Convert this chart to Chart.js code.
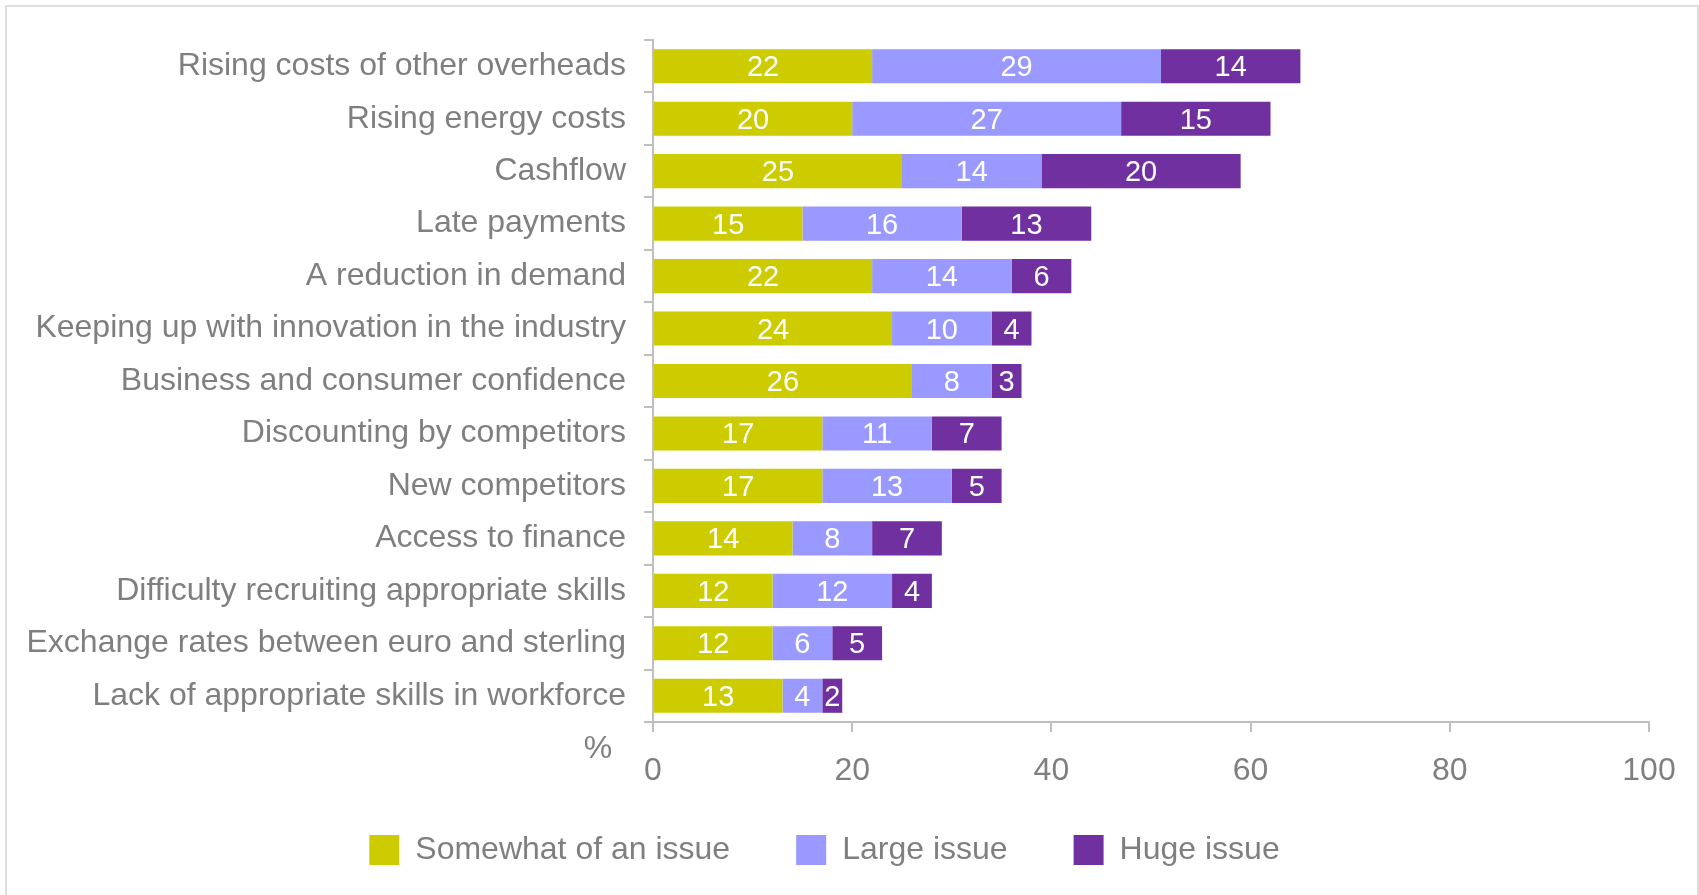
<!DOCTYPE html>
<html>
<head>
<meta charset="utf-8">
<script src="https://cdn.jsdelivr.net/npm/chart.js@4"></script>
<style>
    html, body { margin: 0; padding: 0; background: #fff; overflow: hidden; }
    #wrap { position: relative; width: 1699px; height: 895px; overflow: hidden; }
    #frame { position: absolute; left: 5px; top: 5px; width: 1690px; height: 900px; border: 2px solid #dedede; border-bottom: none; pointer-events: none; }
</style>
</head>
<body>
<div id="wrap">
    <canvas id="barChart" width="1699" height="895"></canvas>
    <div id="frame"></div>
</div>
<script>
const categories = [
    'Rising costs of other overheads',
    'Rising energy costs',
    'Cashflow',
    'Late payments',
    'A reduction in demand',
    'Keeping up with innovation in the industry',
    'Business and consumer confidence',
    'Discounting by competitors',
    'New competitors',
    'Access to finance',
    'Difficulty recruiting appropriate skills',
    'Exchange rates between euro and sterling',
    'Lack of appropriate skills in workforce'
];
const somewhatIssue = [22, 20, 25, 15, 22, 24, 26, 17, 17, 14, 12, 12, 13];
const largeIssue = [29, 27, 14, 16, 14, 10, 8, 11, 13, 8, 12, 6, 4];
const hugeIssue = [14, 15, 20, 13, 6, 4, 3, 7, 5, 7, 4, 5, 2];
const xTicks = [0, 20, 40, 60, 80, 100];

const FONT = '"Liberation Sans", Arial, sans-serif';
const GREY = '#7f7f7f';

document.addEventListener('DOMContentLoaded', function () {
    const ctx = document.getElementById('barChart').getContext('2d');

    // white numbers in the middle of each segment
    const valueLabels = {
        id: 'valueLabels',
        afterDatasetsDraw(chart) {
            const c = chart.ctx;
            c.save();
            c.font = '29px ' + FONT;
            c.fillStyle = '#ffffff';
            c.textAlign = 'center';
            c.textBaseline = 'middle';
            chart.data.datasets.forEach((ds, i) => {
                chart.getDatasetMeta(i).data.forEach((bar, j) => {
                    c.fillText(ds.data[j], (bar.x + bar.base) / 2, bar.y + 2);
                });
            });
            c.restore();
        }
    };

    // the lone "%" under the category labels
    const percentSign = {
        id: 'percentSign',
        afterDraw(chart) {
            const c = chart.ctx;
            const area = chart.chartArea;
            c.save();
            c.font = '32px ' + FONT;
            c.fillStyle = GREY;
            c.textAlign = 'center';
            c.textBaseline = 'middle';
            c.fillText('%', area.left - 55, area.bottom + 27);
            c.restore();
        }
    };

    // x axis box is kept short so the legend sits close; let its labels draw below it
    const axisRoom = {
        id: 'axisRoom',
        afterLayout(chart) {
            chart.scales.x.bottom += 40;
        }
    };

    new Chart(ctx, {
        type: 'bar',
        data: {
            labels: categories,
            datasets: [
                { label: 'Somewhat of an issue', data: somewhatIssue, backgroundColor: '#cccc00' },
                { label: 'Large issue', data: largeIssue, backgroundColor: '#9999ff' },
                { label: 'Huge issue', data: hugeIssue, backgroundColor: '#7030a0' }
            ]
        },
        options: {
            indexAxis: 'y',
            responsive: false,
            animation: false,
            barPercentage: 0.65,
            categoryPercentage: 1,
            layout: { padding: { left: 0, right: 50, top: 40, bottom: 19 } },
            scales: {
                x: {
                    stacked: true,
                    min: 0,
                    max: 100,
                    afterBuildTicks: function (scale) {
                        scale.ticks = xTicks.map(v => ({ value: v }));
                    },
                    afterFit: function (scale) { scale.height = 46; },
                    grid: { drawOnChartArea: false, drawTicks: true, tickLength: 10, color: '#bfbfbf', lineWidth: 2 },
                    border: { color: '#bfbfbf', width: 2 },
                    ticks: { color: GREY, font: { size: 32, family: FONT }, padding: 20, maxRotation: 0 }
                },
                y: {
                    stacked: true,
                    afterFit: function (scale) { scale.width = 653; },
                    grid: { offset: true, drawOnChartArea: false, drawTicks: true, tickLength: 9, color: '#bfbfbf', lineWidth: 2 },
                    border: { color: '#bfbfbf', width: 2 },
                    ticks: { color: GREY, font: { size: 32, family: FONT }, padding: 18, autoSkip: false }
                }
            },
            plugins: {
                legend: {
                    position: 'bottom',
                    labels: {
                        boxWidth: 30,
                        boxHeight: 30,
                        padding: 66,
                        color: GREY,
                        font: { size: 32, family: FONT }
                    }
                },
                tooltip: { enabled: false }
            }
        },
        plugins: [valueLabels, percentSign, axisRoom]
    });
});
</script>
</body>
</html>
